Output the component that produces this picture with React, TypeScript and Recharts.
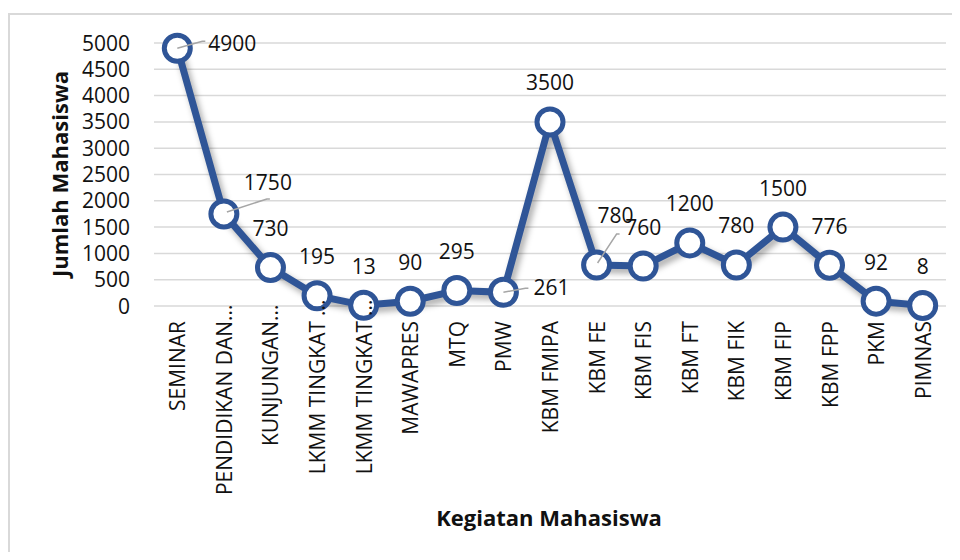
import React from 'react';
import { LineChart, Line, XAxis, YAxis, CartesianGrid, LabelList } from 'recharts';

const categories = [
  'SEMINAR',
  'PENDIDIKAN DAN...',
  'KUNJUNGAN...',
  'LKMM TINGKAT ...',
  'LKMM TINGKAT ...',
  'MAWAPRES',
  'MTQ',
  'PMW',
  'KBM FMIPA',
  'KBM FE',
  'KBM FIS',
  'KBM FT',
  'KBM FIK',
  'KBM FIP',
  'KBM FPP',
  'PKM',
  'PIMNAS',
];
const values = [4900, 1750, 730, 195, 13, 90, 295, 261, 3500, 780, 760, 1200, 780, 1500, 776, 92, 8];
const yTicks = [0, 500, 1000, 1500, 2000, 2500, 3000, 3500, 4000, 4500, 5000];

const data = categories.map((name, i) => ({ name, value: values[i] }));

const FONT = '"Open Sans", "Noto Sans", sans-serif';
const LINE_COLOR = '#2F5597';
const TEXT_COLOR = '#111';
const FS = 21;
const TITLE_FS = 22;

// label placement (style/layout only): offsets from point
type Place = { dx: number; dy: number; anchor: 'start' | 'middle' | 'end'; leader?: [number, number, number, number] };
const defaultPlace: Place = { dx: 0, dy: -39, anchor: 'middle' };
const placements: Record<number, Place> = {
  0: { dx: 31, dy: -5, anchor: 'start', leader: [0, 0, 25, -7] },
  1: { dx: 44, dy: -31, anchor: 'middle', leader: [3, -2, 43, -15] },
  7: { dx: 30, dy: -5, anchor: 'start', leader: [0, 0, 22, -4] },
  9: { dx: 19, dy: -49, anchor: 'middle', leader: [1, -2, 20, -31] },
};

const renderLabel = (props: any) => {
  const { index, value } = props;
  const x = props.x ?? props.viewBox?.x;
  const y = props.y ?? props.viewBox?.y;
  const p = placements[index] ?? defaultPlace;
  return (
    <g>
      {p.leader && (
        <polyline
          points={`${x + p.leader[0]},${y + p.leader[1]} ${x + p.leader[2]},${y + p.leader[3]} ${x + p.leader[2] + 3},${y + p.leader[3]}`}
          fill="none"
          stroke="#a6a6a6"
          strokeWidth={1.5}
        />
      )}
      <text
        x={x + p.dx}
        y={y + p.dy + 7.5}
        textAnchor={p.anchor}
        fontFamily={FONT}
        fontSize={FS}
        fill={TEXT_COLOR}
      >
        {value}
      </text>
    </g>
  );
};

const XTick = (props: any) => {
  const { x, y, payload } = props;
  const label: string = payload.value;
  let main = label;
  let dots = '';
  let gap = 0;
  if (label.endsWith(' ...')) {
    main = label.slice(0, -4);
    dots = '...';
    gap = 5;
  } else if (label.endsWith('...')) {
    main = label.slice(0, -3);
    dots = '...';
    gap = 0;
  }
  return (
    <g transform={`translate(${x},${y}) rotate(-90)`}>
      <text x={0} y={0} textAnchor="end" dominantBaseline="central" fontFamily={FONT} fontSize={FS} fill={TEXT_COLOR}>
        {main}
      </text>
      {dots && (
        <text x={gap} y={0} textAnchor="start" dominantBaseline="central" fontFamily={FONT} fontSize={FS} fill={TEXT_COLOR}>
          {dots}
        </text>
      )}
    </g>
  );
};

const YTick = (props: any) => {
  const { x, y, payload } = props;
  return (
    <text x={x} y={y + 7.5} textAnchor="end" fontFamily={FONT} fontSize={FS} fill={TEXT_COLOR}>
      {payload.value}
    </text>
  );
};

export default function App() {
  return (
    <div style={{ position: 'relative', width: 952, height: 544, overflow: 'hidden', background: '#fff' }}>
      <style>{`.main-line { filter: drop-shadow(3px 4px 3px rgba(0,0,0,0.35)); }`}</style>
      <div
        style={{
          position: 'absolute',
          top: 5,
          left: 0,
          width: 1000,
          height: 700,
          border: '2px solid #d9d9d9',
          boxSizing: 'border-box',
        }}
      />
      <div style={{ position: 'absolute', top: 0, left: 0 }}>
        <LineChart width={952} height={544} data={data} margin={{ top: 35, right: 14, left: 0, bottom: 0 }}>
          <CartesianGrid horizontal vertical={false} stroke="#d9d9d9" strokeWidth={1.5} />
          <XAxis
            dataKey="name"
            interval={0}
            height={246}
            padding={{ left: 23.3, right: 23.3 }}
            axisLine={false}
            tickLine={false}
            tickSize={0}
            tickMargin={15}
            tick={<XTick />}
            label={{
              content: () => (
                <text x={541} y={518} textAnchor="middle" fontFamily={FONT} fontSize={TITLE_FS} fontWeight="bold" fill={TEXT_COLOR}>
                  Kegiatan Mahasiswa
                </text>
              ),
            }}
          />
          <YAxis
            width={146}
            domain={[0, 5000]}
            ticks={yTicks}
            interval={0}
            axisLine={false}
            tickLine={false}
            tickSize={0}
            tickMargin={24}
            tick={<YTick />}
            label={{
              content: () => (
                <text
                  transform="translate(52,166) rotate(-90)"
                  x={0}
                  y={8}
                  textAnchor="middle"
                  fontFamily={FONT}
                  fontSize={TITLE_FS}
                  fontWeight="bold"
                  fill={TEXT_COLOR}
                >
                  Jumlah Mahasiswa
                </text>
              ),
            }}
          />
          <Line
            className="main-line"
            type="linear"
            dataKey="value"
            stroke={LINE_COLOR}
            strokeWidth={7}
            dot={{ r: 13, fill: '#fff', stroke: LINE_COLOR, strokeWidth: 5 }}
            activeDot={false}
            isAnimationActive={false}
          />
          <Line
            type="linear"
            dataKey="value"
            stroke="none"
            dot={false}
            activeDot={false}
            isAnimationActive={false}
          >
            <LabelList dataKey="value" content={renderLabel} />
          </Line>
        </LineChart>
      </div>
    </div>
  );
}
